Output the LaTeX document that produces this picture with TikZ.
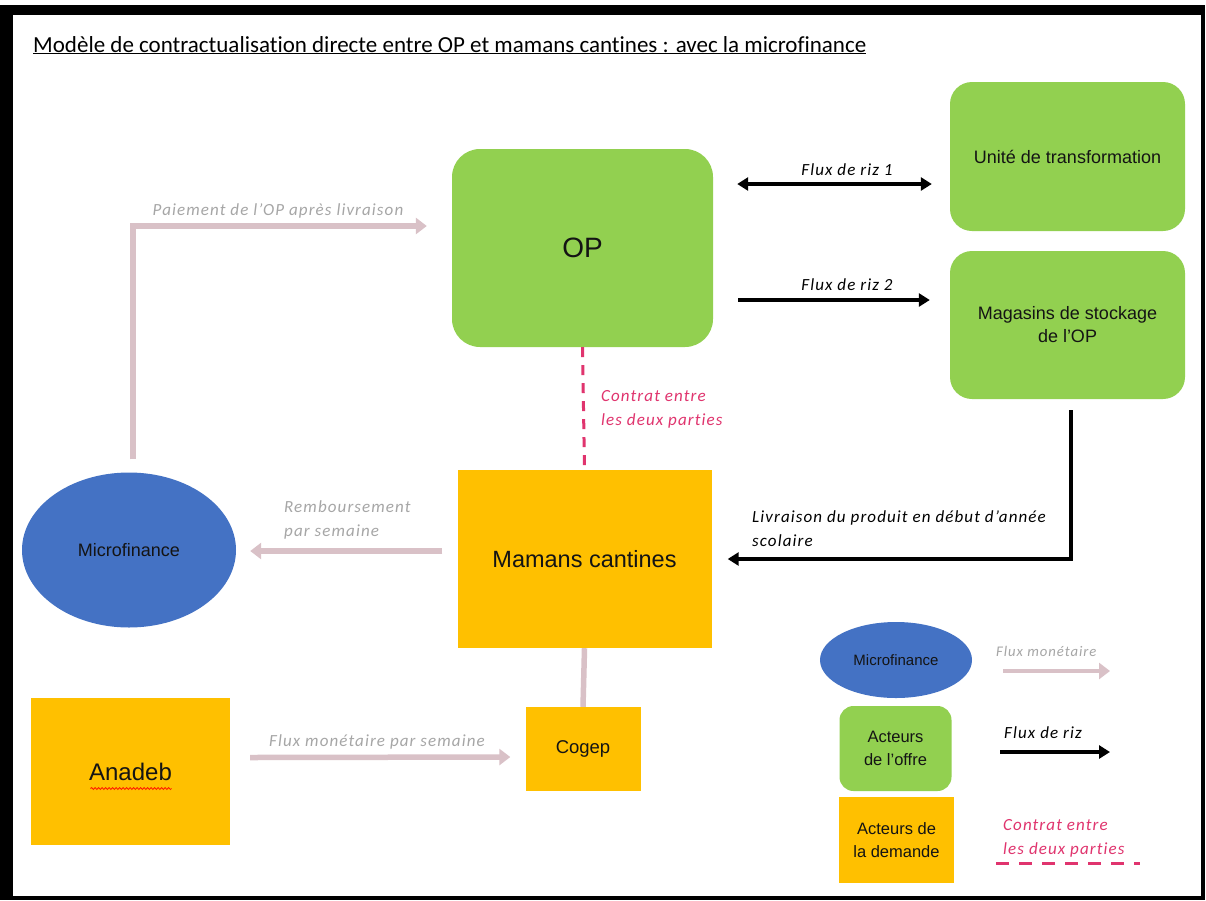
\documentclass[tikz,border=0pt]{standalone}
\usepackage{fontspec}
\setmainfont[Ligatures={TeX,NoCommon}]{Carlito}
\newfontfamily\arial{Liberation Sans}
\newfontfamily\labfont[LetterSpace=6.5,Ligatures={TeX,NoCommon}]{Carlito}
\usetikzlibrary{arrows.meta,shapes.geometric,decorations.pathmorphing}
\definecolor{opgreen}{RGB}{146,208,80}
\definecolor{dorange}{RGB}{255,192,0}
\definecolor{mfblue}{RGB}{68,114,196}
\definecolor{flowpink}{RGB}{217,193,199}
\definecolor{labgrey}{RGB}{166,166,166}
\definecolor{contractred}{RGB}{224,52,110}
\definecolor{nodetext}{RGB}{20,20,20}
\begin{document}
\begin{tikzpicture}[x=1pt,y=-1pt,
  gbox/.style={fill=opgreen, inner sep=0pt, text=nodetext, align=center},
  obox/.style={fill=dorange, inner sep=0pt, text=nodetext, align=center},
  mfell/.style={ellipse, fill=mfblue, inner sep=0pt, text=nodetext},
  pinkarrow/.style={draw=flowpink, line width=5.5pt, -{Triangle[length=11pt,width=16pt]}},
  pinkline/.style={draw=flowpink, line width=5.5pt},
  riceflow/.style={draw=black, line width=3.5pt, -{Triangle[length=11pt,width=13pt]}},
  contract/.style={draw=contractred, line width=3pt, dash pattern=on 10pt off 8pt},
  lab/.style={font=\labfont\itshape\fontsize{17}{24}\selectfont, inner sep=0pt, align=left},
  greylab/.style={lab, text=labgrey},
  blacklab/.style={lab, text=black},
  redlab/.style={lab, text=contractred}
]
\useasboundingbox (0,0) rectangle (1206,900);
\fill[white] (0,0) rectangle (1206,900);
\fill[black] (0,5) rectangle (1205,900);
\fill[white] (13,15) rectangle (1201,896);

% title
\node[anchor=base west, inner sep=0pt, font=\fontsize{23}{27}\selectfont] (title) at (33,52)
  {\underline{Modèle de contractualisation directe entre OP et mamans cantines : avec la microfinance}};

% main nodes
\node[gbox, minimum width=261pt, minimum height=198pt, rounded corners=28pt, font=\arial\fontsize{28}{32}\selectfont] (op) at (582.5,248) {OP};
\node[gbox, minimum width=235pt, minimum height=149pt, rounded corners=22pt, font=\arial\fontsize{18}{23}\selectfont] (ut) at (1067.5,156.5) {Unité de transformation};
\node[gbox, minimum width=235pt, minimum height=148pt, rounded corners=22pt, font=\arial\fontsize{18}{23}\selectfont] (mag) at (1067.5,325) {Magasins de stockage\\de l’OP};
\node[obox, minimum width=254pt, minimum height=178pt, font=\arial\fontsize{23.5}{27}\selectfont] (mam) at (584.5,559) {Mamans cantines};
\node[obox, minimum width=115pt, minimum height=84pt, font=\arial\fontsize{18.5}{22}\selectfont] (cogep) at (583,749) {Cogep};
\node[obox, minimum width=199pt, minimum height=147pt, font=\arial\fontsize{24}{28}\selectfont] (ana) at (130.5,771.5) {Anadeb};
\node[mfell, minimum width=214pt, minimum height=155pt, font=\arial\fontsize{18}{21}\selectfont] (mf) at (129,550) {Microfinance};

% spell-check squiggle under Anadeb
\draw[red!80!orange, line width=0.8pt, decorate, decoration={snake, amplitude=1pt, segment length=3.5pt}]
  ([xshift=-40pt,yshift=-17pt]ana.center) -- ([xshift=41pt,yshift=-17pt]ana.center);

% connectors
\draw[pinkarrow] ([xshift=4pt,yshift=13pt]mf.north) |- ([xshift=-25pt,yshift=22pt]op.west);
\draw[pinkarrow] ([xshift=-15pt,yshift=8pt]mam.west) -- ([xshift=14pt,yshift=-1pt]mf.east);
\draw[pinkline] (mam.south) -- (cogep.north);
\draw[pinkarrow] ([xshift=20pt,yshift=14pt]ana.east) -- ([xshift=-15pt,yshift=-8pt]cogep.west);
\draw[contract] (op.south) -- (mam.north);
\draw[riceflow, {Triangle[length=11pt,width=13pt]}-{Triangle[length=11pt,width=13pt]}]
  ([xshift=24pt,yshift=64pt]op.east) -- ([xshift=-18pt,yshift=-27.5pt]ut.west);
\draw[riceflow] ([xshift=25pt,yshift=-52pt]op.east) -- ([xshift=-20pt,yshift=25pt]mag.west);
\draw[riceflow] ([xshift=3.5pt,yshift=-11pt]mag.south) |- ([xshift=16pt]mam.east);

% connector labels
\node[greylab] (lpay) at (278,211) {Paiement de l’OP après livraison};
\node[blacklab] (lf1) at (847,170) {Flux de riz 1};
\node[blacklab] (lf2) at (847,285) {Flux de riz 2};
\node[redlab, anchor=west] (lctr) at (601,409) {Contrat entre\\les deux parties};
\node[greylab, anchor=west] (lremb) at (284,520) {Remboursement\\par semaine};
\node[blacklab, anchor=west] (lliv) at (752,529) {Livraison du produit en début d’année\\scolaire};
\node[greylab] (lanad) at (377,742) {Flux monétaire par semaine};

% legend
\node[mfell, minimum width=152pt, minimum height=76pt, font=\arial\fontsize{15}{18}\selectfont] (lmf) at (896,660) {Microfinance};
\node[gbox, minimum width=112pt, minimum height=85pt, rounded corners=14pt, font=\arial\fontsize{16.5}{23}\selectfont] (lg) at (895.5,748.5) {Acteurs\\de l’offre};
\node[obox, minimum width=115pt, minimum height=86pt, font=\arial\fontsize{16.5}{23}\selectfont] (lo) at (896.5,840) {Acteurs de\\la demande};

\coordinate (lpa) at (1003,671);
\coordinate (lpb) at (1110,671);
\draw[pinkarrow, line width=4pt] (lpa) -- (lpb);
\node[greylab, anchor=west, font=\labfont\itshape\fontsize{14.7}{18}\selectfont] (lfm) at (996,651) {Flux monétaire};

\coordinate (lra) at (1000,752);
\coordinate (lrb) at (1110,752);
\draw[riceflow] (lra) -- (lrb);
\node[blacklab, anchor=west] (lfr) at (1004,733) {Flux de riz};

\node[redlab, anchor=west] (lct) at (1003,838) {Contrat entre\\les deux parties};
\coordinate (lca) at (996,863);
\coordinate (lcb) at (1140,863);
\draw[contract, dash pattern=on 13pt off 10pt] (lca) -- (lcb);
\end{tikzpicture}
\end{document}
